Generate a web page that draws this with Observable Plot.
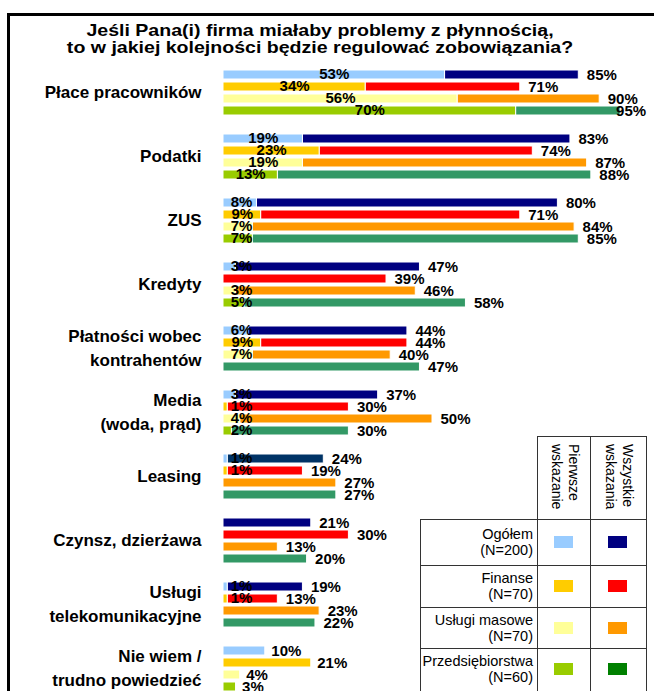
<!DOCTYPE html>
<html>
<head>
<meta charset="utf-8">
<script src="https://cdn.jsdelivr.net/npm/d3@7"></script>
<script src="https://cdn.jsdelivr.net/npm/@observablehq/plot@0.6"></script>
<style>
html, body { margin: 0; padding: 0; overflow: hidden; background: #fff; width: 654px; height: 691px; }
body { position: relative; font-family: "Liberation Sans", Arial, sans-serif; color: #000; }
#frame { position: absolute; left: 7px; top: 13px; width: 700px; height: 720px; border-left: 3px solid #000; border-top: 3px solid #000; }
#title { position: absolute; left: 0; top: 23px; width: 640px; text-align: center; font-size: 17px; font-weight: bold; line-height: 16.5px; transform: scaleX(1.15); transform-origin: 320px 0; }
#chart { position: absolute; left: 0; top: 0; }
.cell { position: absolute; box-sizing: border-box; border: 1.5px solid #333; background: #fff; }
.rowlabel { position: absolute; text-align: right; font-size: 14.5px; line-height: 16px; }
.vhead { position: absolute; writing-mode: vertical-rl; font-size: 14px; line-height: 17px; }
.swatch { position: absolute; width: 19px; height: 12px; }
</style>
</head>
<body>
<div id="frame"></div>
<div id="chart"></div>
<div id="title">Jeśli Pana(i) firma miałaby problemy z płynnością,<br>to w jakiej kolejności będzie regulować zobowiązania?</div>
<div id="legend"></div>
<script>
// ---- data ----
const categories = [
  "Płace pracowników",
  "Podatki",
  "ZUS",
  "Kredyty",
  "Płatności wobec\nkontrahentów",
  "Media\n(woda, prąd)",
  "Leasing",
  "Czynsz, dzierżawa",
  "Usługi\ntelekomunikacyjne",
  "Nie wiem /\ntrudno powiedzieć"
];
const groups = ["Ogółem", "Finanse", "Usługi masowe", "Przedsiębiorstwa"];
const groupN = ["(N=200)", "(N=70)", "(N=70)", "(N=60)"];
const legendHeaders = ["Pierwsze wskazanie", "Wszystkie wskazania"];

// "Pierwsze wskazanie" (first mention) per group, in category order
const firstOgolem = [53, 19, 8, 3, 6, 3, 1, null, 1, 10];
const firstFinanse = [34, 23, 9, null, 9, 1, 1, null, 1, 21];
const firstUslugi = [56, 19, 7, 3, 7, 4, null, null, null, 4];
const firstPrzeds = [70, 13, 7, 5, null, 2, null, null, null, 3];
// "Wszystkie wskazania" (all mentions) per group
const allOgolem = [85, 83, 80, 47, 44, 37, 24, 21, 19, null];
const allFinanse = [71, 74, 71, 39, 44, 30, 19, 30, 13, null];
const allUslugi = [90, 87, 84, 46, 40, 50, 27, 13, 23, null];
const allPrzeds = [95, 88, 85, 58, 47, 30, 27, 20, 22, null];

const lightColors = ["#99CCFF", "#FFCC00", "#FFFF99", "#99CC00"];
const darkColors = ["#000080", "#FF0000", "#FF9900", "#339966"];
const legendDarkColors = ["#000080", "#FF0000", "#FF9900", "#008000"];

// ---- build table ----
const firstByGroup = [firstOgolem, firstFinanse, firstUslugi, firstPrzeds];
const allByGroup = [allOgolem, allFinanse, allUslugi, allPrzeds];
const records = [];
categories.forEach((cat, ci) => {
  groups.forEach((grp, gi) => {
    records.push({cat, grp, gi, first: firstByGroup[gi][ci], all: allByGroup[gi][ci]});
  });
});
const withAll = records.filter(d => d.all != null);
const withFirst = records.filter(d => d.first != null);
const firstInside = withFirst.filter(d => d.all != null);
const firstOnly = withFirst.filter(d => d.all == null);
const darkFill = d => (d.cat === "Leasing" && d.gi === 0) ? "#003366" : darkColors[d.gi];

const font = '"Liberation Sans", Arial, sans-serif';
const chart = Plot.plot({
  width: 654,
  height: 701,
  marginTop: 61,
  marginBottom: 0,
  marginLeft: 223,
  marginRight: 13,
  x: {domain: [0, 100], axis: null},
  y: {domain: groups, axis: null, paddingInner: 0.25, paddingOuter: 0.125},
  fy: {domain: categories, paddingInner: 0.2, paddingOuter: 0.1},
  color: {type: "identity"},
  style: {fontFamily: font, background: "transparent", overflow: "visible"},
  marks: [
    Plot.barX(withAll, {x1: d => d.first ?? 0, x2: "all", y: "grp", fy: "cat", fill: darkFill, stroke: "white", strokeWidth: 1}),
    Plot.barX(withFirst, {x1: d => 0, x2: "first", y: "grp", fy: "cat", fill: d => lightColors[d.gi], stroke: "white", strokeWidth: 1}),
    Plot.text(withAll, {x: d => Math.min(d.all, 92), y: "grp", fy: "cat", text: d => d.all + "%", textAnchor: "start", dx: 8, fontSize: 15, fontWeight: "bold", fill: "black"}),
    Plot.text(firstInside, {x: d => Math.max(d.first / 2, 4.3), y: "grp", fy: "cat", text: d => d.first + "%", textAnchor: "middle", dy: -1, fontSize: 15, fontWeight: "bold", fill: "black"}),
    Plot.text(firstOnly, {x: "first", y: "grp", fy: "cat", text: d => d.first + "%", textAnchor: "start", dx: 6, fontSize: 15, fontWeight: "bold", fill: "black"}),
    Plot.axisFy({anchor: "left", tickSize: 0, tickPadding: 22, dy: -3, fontSize: 17, fontWeight: "bold", lineHeight: 1.45, label: null})
  ]
});
document.getElementById("chart").appendChild(chart);

// ---- legend (HTML table-like box) ----
const lg = document.getElementById("legend");
function el(cls, styles, html) {
  const e = document.createElement("div");
  e.className = cls;
  Object.assign(e.style, styles);
  if (html != null) e.innerHTML = html;
  lg.appendChild(e);
  return e;
}
const colX = [537, 590, 645];
const rowY = [519, 565, 607, 648, 690];
// header cells
el("cell", {left: colX[0] + "px", top: "436px", width: (colX[1] - colX[0] + 1.5) + "px", height: (rowY[0] - 436 + 1.5) + "px"});
el("cell", {left: colX[1] + "px", top: "436px", width: (colX[2] - colX[1] + 1.5) + "px", height: (rowY[0] - 436 + 1.5) + "px"});
legendHeaders.forEach((h, i) => {
  const parts = h.split(" ");
  const cx = (colX[i] + colX[i + 1]) / 2;
  el("vhead", {left: (cx - 16) + "px", top: "444px", width: "34px"}, parts.join("<br>"));
});
groups.forEach((g, gi) => {
  const y0 = rowY[gi], y1 = rowY[gi + 1];
  el("cell", {left: "420px", top: y0 + "px", width: (colX[0] - 420 + 1.5) + "px", height: (y1 - y0 + 1.5) + "px"});
  el("cell", {left: colX[0] + "px", top: y0 + "px", width: (colX[1] - colX[0] + 1.5) + "px", height: (y1 - y0 + 1.5) + "px"});
  el("cell", {left: colX[1] + "px", top: y0 + "px", width: (colX[2] - colX[1] + 1.5) + "px", height: (y1 - y0 + 1.5) + "px"});
  const cy = (y0 + y1) / 2;
  el("rowlabel", {left: "400px", width: "133px", top: (cy - 16) + "px"}, g + "<br>" + groupN[gi]);
  el("swatch", {left: ((colX[0] + colX[1]) / 2 - 9.5) + "px", top: (cy - 6) + "px", background: lightColors[gi]});
  el("swatch", {left: ((colX[1] + colX[2]) / 2 - 9.5) + "px", top: (cy - 6) + "px", background: legendDarkColors[gi]});
});
</script>
</body>
</html>
